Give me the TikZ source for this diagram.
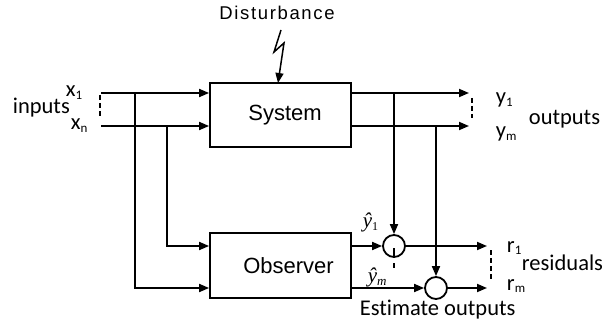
\documentclass[tikz,border=0pt]{standalone}
\usepackage{fontspec}
\setmainfont{Liberation Sans}
\newfontfamily\calib[Ligatures=NoCommon]{Carlito}
\newfontfamily\tms{Liberation Serif}
\usetikzlibrary{arrows.meta}
\newcommand{\subsc}[1]{\raisebox{-2.5pt}{\fontsize{13}{13}\selectfont #1}}
\begin{document}
\begin{tikzpicture}[x=1pt,y=-1pt, line width=1.8pt,
  blk/.style={draw, rectangle, minimum width=141pt, minimum height=64pt, inner sep=0pt, font=\fontsize{22}{22}\selectfont},
  sumc/.style={draw, circle, minimum size=22pt, inner sep=0pt},
  arr/.style={-{Triangle[length=10pt,width=8pt]}},
  lbl/.style={inner sep=0pt, anchor=base west, font=\calib\fontsize{22.5}{22.5}\selectfont},
  sym/.style={inner sep=0pt, anchor=base west, font=\calib\fontsize{22.5}{22.5}\selectfont},
  hat/.style={inner sep=0pt, anchor=base west, font=\tms\itshape\fontsize{21}{21}\selectfont},
  dsh/.style={line width=1.5pt, dash pattern=on 5pt off 3pt}]
\useasboundingbox (0,0) rectangle (609,336);
% blocks
\node[blk] (sys) at (280.5,115) {\hspace{9pt}System};
\node[blk, minimum height=65pt] (obs) at (280.5,265.5) {\hspace{16pt}Observer};
\node[sumc] (s1) at (394,246) {};
\node[sumc] (s2) at (436,288) {};
% coordinates
\coordinate (i1) at (101,93);
\coordinate (in) at (101,126);
\coordinate (o1) at (469,93);
\coordinate (on) at (469,126);
\coordinate (j1) at (135,93);
\coordinate (j2) at (167,126);
\coordinate (k1) at (394,93);
\coordinate (k2) at (436,126);
\coordinate (r1e) at (487,246);
\coordinate (rme) at (487,288);
\coordinate (d0) at (281,30);
\coordinate (dt) at (278,83);
% disturbance
\node[inner sep=0pt, anchor=base, font=\fontsize{18.5}{18.5}\selectfont\addfontfeature{LetterSpace=9}] (dist) at (277,20) {Disturbance};
\draw[arr, line width=1.5pt] (d0) -- (274,52) -- (284,43) -- (dt);
% inputs
\draw[arr] (i1) -- (i1 -| sys.west);
\draw[arr] (in) -- (in -| sys.west);
\draw[arr] (j1) |- (obs.west |- s2);
\draw[arr] (j2) |- (obs.west |- s1);
% outputs
\draw[arr] (i1 -| sys.east) -- (o1);
\draw[arr] (in -| sys.east) -- (on);
\draw[arr] (k1) -- (s1.north);
\draw[arr] (k2) -- (s2.north);
% observer to sums
\draw[arr] (obs.east |- s1) -- (s1);
\draw[arr] (obs.east |- s2) -- (s2);
\draw[arr] (s1) -- (r1e);
\draw[arr] (s2) -- (rme);
% dashed
\draw[dsh] (100,95) -- (100,117);
\draw[dsh] (472,98) -- (472,118);
\draw[dsh] (491,250) -- (491,280);
\draw[line width=1.5pt, dash pattern=on 9pt off 6pt] ([yshift=-2pt]s1.center) -- ++(0,20);
% labels
\node[sym] (x1) at (65,97) {x\subsc{1}};
\node[lbl] (inp) at (12,114) {inputs};
\node[sym] (xn) at (70,130) {x\subsc{n}};
\node[sym] (y1) at (495,104) {y\subsc{1}};
\node[sym] (ym) at (495,138) {y\subsc{m}};
\node[lbl] (outp) at (528,125) {outputs};
\node[hat] (yh1) at (362,228) {ŷ\raisebox{-3pt}{\upshape\fontsize{12}{12}\selectfont 1}};
\node[hat] (yhm) at (367,282) {ŷ\raisebox{-3pt}{\fontsize{13}{13}\selectfont m}};
\node[sym] (r1) at (506,252) {r\subsc{1}};
\node[sym] (rm) at (506,290) {r\subsc{m}};
\node[lbl] (res) at (521,270) {residuals};
\node[lbl] (est) at (359,315) {Estimate outputs};
\end{tikzpicture}
\end{document}
